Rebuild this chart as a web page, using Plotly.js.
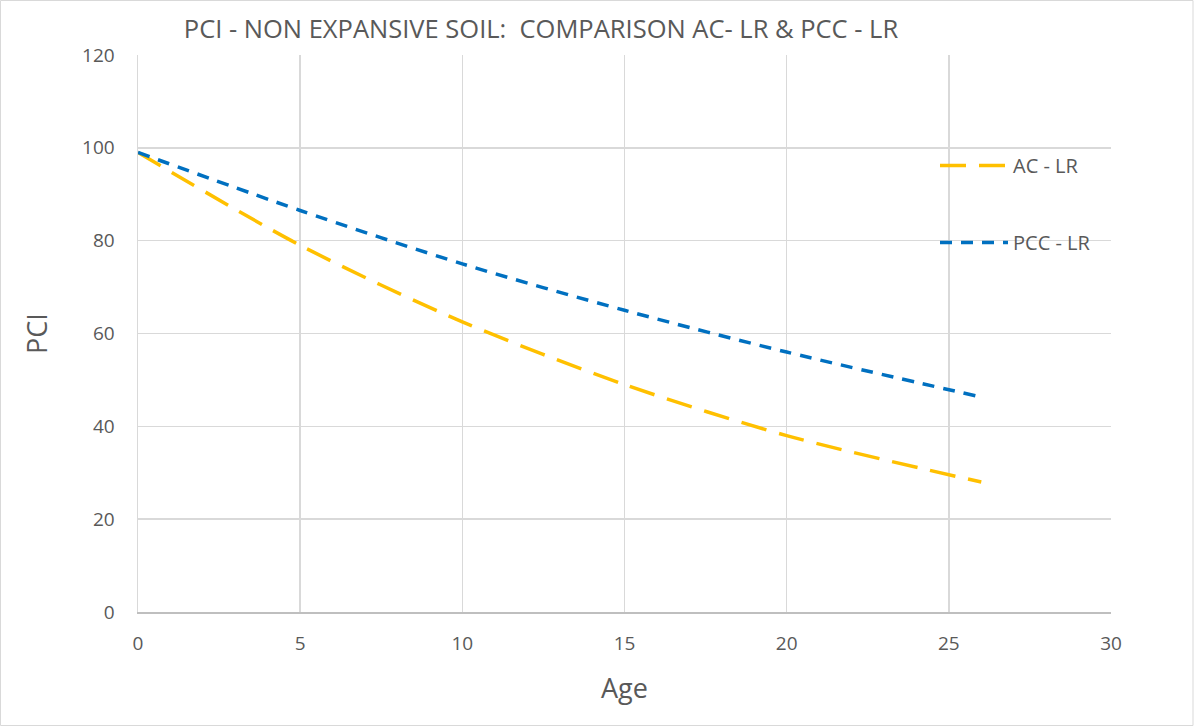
<!DOCTYPE html>
<html><head><meta charset="utf-8">
<script src="https://cdn.plot.ly/plotly-3.0.1.min.js"></script>
<style>html,body{margin:0;padding:0;background:#fff;}#chart{width:1194px;height:726px;}</style>
</head><body><div id="chart"></div>
<script>
const ageAC = [0, 5, 10, 15, 20, 26];
const pciAC = [99, 79, 62.5, 49, 38, 28];
const agePCC = [0, 5, 10, 15, 20, 26];
const pciPCC = [99, 86.5, 75, 65, 56, 46.3];
const xTicks = [0, 5, 10, 15, 20, 25, 30];
const yTicks = [0, 20, 40, 60, 80, 100, 120];

const FONT = "'Open Sans', sans-serif";
const traces = [
  {x: ageAC, y: pciAC, name: 'AC - LR', mode: 'lines', legendgroup: 'a',
   line: {color: '#FFC000', width: 3.5, dash: '26px,13px', shape: 'spline', smoothing: 0.8}},
  {x: agePCC, y: pciPCC, name: 'PCC - LR', mode: 'lines', legendgroup: 'b',
   line: {color: '#0070C0', width: 3.5, dash: '12px,9px', shape: 'spline', smoothing: 0.8}}
];
const L = 138, R = 83, T = 55, B = 114, W = 1194, H = 726;
const pw = W - L - R, ph = H - T - B;
const layout = {
  width: W, height: H,
  margin: {l: L, r: R, t: T, b: B, pad: 0},
  paper_bgcolor: '#fff', plot_bgcolor: '#fff',
  font: {family: FONT, color: '#595959', size: 19},
  title: {text: 'PCI - NON EXPANSIVE SOIL:  COMPARISON AC- LR &amp; PCC - LR',
    font: {family: FONT, size: 25.5, color: '#595959'},
    xref: 'paper', x: (541 - L) / pw, xanchor: 'center',
    yref: 'container', y: 1 - 29 / H, yanchor: 'middle'},
  xaxis: {range: [0, 30], tickvals: xTicks, ticktext: xTicks.map(String),
    showgrid: true, gridcolor: '#D9D9D9', gridwidth: 1.5, zeroline: false,
    showline: true, linecolor: '#BFBFBF', linewidth: 1.5, ticks: '', ticklen: 0,
    ticklabelstandoff: 14,
    tickfont: {size: 19, color: '#595959'},
    title: {text: 'Age', font: {size: 27, color: '#595959'}, standoff: 24}},
  yaxis: {range: [0, 120], tickvals: yTicks, ticktext: yTicks.map(String),
    showgrid: true, gridcolor: '#D9D9D9', gridwidth: 1.5, zeroline: false,
    showline: true, linecolor: '#D9D9D9', linewidth: 1.5, ticks: '',
    ticklabelstandoff: 18,
    tickfont: {size: 19, color: '#595959'},
    title: {text: 'PCI', font: {size: 27, color: '#595959'}, standoff: 26}},
  showlegend: true,
  legend: {x: (935 - L) / pw, y: 1 - (146 - T) / ph, xanchor: 'left', yanchor: 'top',
    bgcolor: 'rgba(0,0,0,0)', tracegroupgap: 48, traceorder: 'grouped',
    itemwidth: 68, font: {size: 20, color: '#595959'}},
  shapes: [{type: 'rect', xref: 'paper', yref: 'paper',
    x0: -L / pw + 0.5 / pw, x1: 1 + (R - 1) / pw, y0: -B / ph + 0.5 / ph, y1: 1 + (T - 0.5) / ph,
    line: {color: '#D9D9D9', width: 1}, layer: 'below'}]
};
Plotly.newPlot('chart', traces, layout, {displayModeBar: false, staticPlot: true});
</script></body></html>
